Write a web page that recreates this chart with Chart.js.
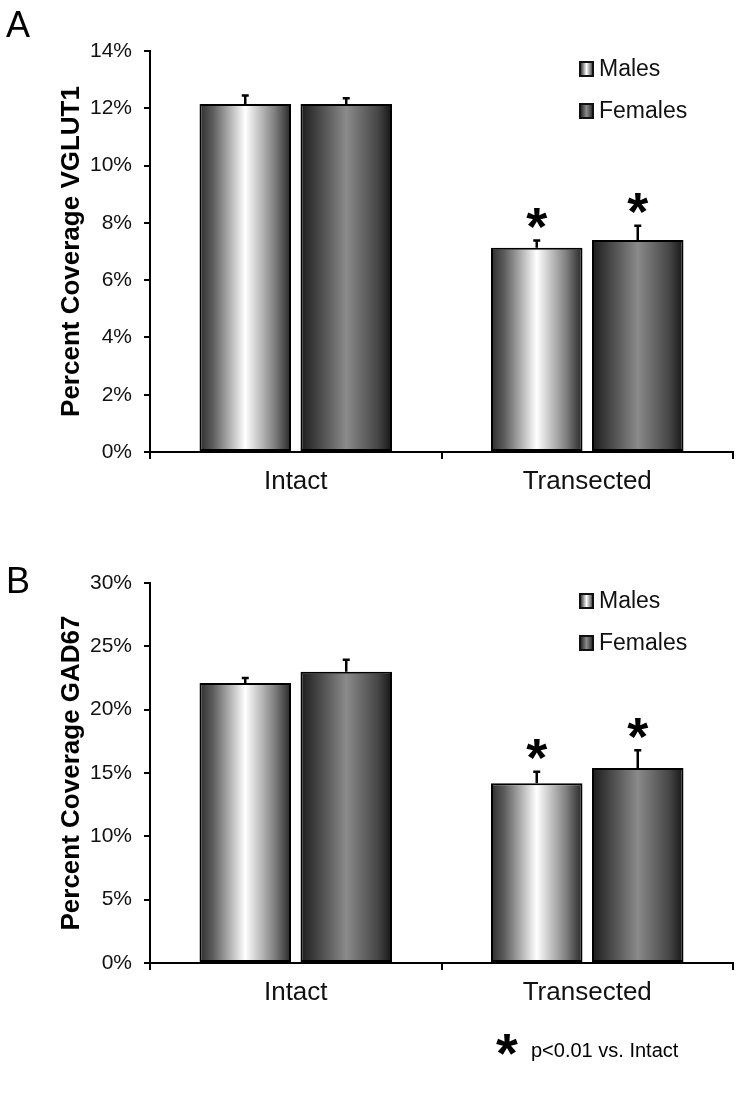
<!DOCTYPE html>
<html>
<head>
<meta charset="utf-8">
<script src="https://cdn.jsdelivr.net/npm/chart.js@4.4.1/dist/chart.umd.min.js"></script>
<style>
  body { margin: 0; background: #fff; width: 742px; height: 1093px; position: relative; overflow: hidden;
         font-family: 'Liberation Sans', Arial, sans-serif; }
  .panel { position: absolute; left: 0; }
  #panelA { top: 0; }
  #panelB { top: 520px; }
  .letter { position: absolute; left: 6px; font-size: 36px; line-height: 1; color: #000; }
</style>
</head>
<body>
<div class="panel" id="panelA"><canvas id="chartA" width="742" height="520"></canvas></div>
<div class="panel" id="panelB"><canvas id="chartB" width="742" height="573"></canvas></div>
<div class="letter" style="top:7px">A</div>
<div class="letter" style="top:563px">B</div>

<script>
/* ── Data ────────────────────────────────────────────── */
const groups = ['Intact', 'Transected'];
const seriesNames = ['Males', 'Females'];

// Panel A: VGLUT1 coverage (%)
const vglutMales      = [12.15, 7.13];
const vglutFemales    = [12.15, 7.40];
const vglutMalesErr   = [0.30, 0.25];
const vglutFemalesErr = [0.20, 0.50];

// Panel B: GAD67 coverage (%)
const gadMales      = [22.1, 14.2];
const gadFemales    = [23.0, 15.4];
const gadMalesErr   = [0.40, 0.90];
const gadFemalesErr = [0.95, 1.40];

// p<0.01 vs. Intact
const significant = [false, true];

const vglutTicks = { max: 14, step: 2 };
const gadTicks   = { max: 30, step: 5 };

/* ── Defaults ────────────────────────────────────────── */
const FONT = "'Liberation Sans', Arial, sans-serif";
Chart.defaults.font.family = FONT;
Chart.defaults.color = '#111';

/* ── Bar shading (cylinder-like gradients) ───────────── */
const shades = {
  Males:   [[0, '#2e2e2e'], [0.15, '#5e5e5e'], [0.5, '#ffffff'], [0.82, '#808080'], [1, '#262626']],
  Females: [[0, '#1c1c1c'], [0.15, '#3c3c3c'], [0.5, '#8a8a8a'], [0.85, '#454545'], [1, '#141414']],
};

function makeGradient(ctx, x0, x1, stops) {
  const g = ctx.createLinearGradient(x0, 0, x1, 0);
  stops.forEach(([o, c]) => g.addColorStop(o, c));
  return g;
}

const shadingPlugin = {
  id: 'shading',
  beforeDatasetsDraw(chart) {
    const ctx = chart.ctx;
    chart.data.datasets.forEach((ds, di) => {
      chart.getDatasetMeta(di).data.forEach(bar => {
        const x0 = bar.x - bar.width / 2, x1 = bar.x + bar.width / 2;
        bar.options = Object.assign({}, bar.options, {
          backgroundColor: makeGradient(ctx, x0, x1, shades[ds.label])
        });
      });
    });
  }
};

/* ── Error bars + significance stars ─────────────────── */
const errorPlugin = {
  id: 'errorBars',
  afterDatasetsDraw(chart) {
    const ctx = chart.ctx;
    const y = chart.scales.y;
    ctx.save();
    chart.data.datasets.forEach((ds, di) => {
      chart.getDatasetMeta(di).data.forEach((bar, i) => {
        const top = y.getPixelForValue(ds.data[i] + ds.errors[i]);
        ctx.strokeStyle = '#000';
        ctx.lineWidth = 2.5;
        ctx.beginPath();
        ctx.moveTo(bar.x, bar.y);
        ctx.lineTo(bar.x, top);
        ctx.moveTo(bar.x - 3.5, top);
        ctx.lineTo(bar.x + 3.5, top);
        ctx.stroke();
        if (significant[i]) {
          ctx.font = 'bold 54px ' + FONT;
          ctx.fillStyle = '#000';
          ctx.textAlign = 'center';
          ctx.textBaseline = 'alphabetic';
          const m = ctx.measureText('*');
          const cy = top - 22;
          ctx.fillText('*', bar.x, cy + (m.actualBoundingBoxAscent - m.actualBoundingBoxDescent) / 2);
        }
      });
    });
    ctx.restore();
  }
};

/* ── Legend drawn inside the plot ────────────────────── */
const boxLegendPlugin = {
  id: 'boxLegend',
  afterDraw(chart, args, opts) {
    const ctx = chart.ctx;
    const a = chart.chartArea;
    ctx.save();
    chart.data.datasets.forEach((ds, di) => {
      const cy = a.top + opts.rows[di];
      const bx = a.left + opts.x;
      ctx.fillStyle = makeGradient(ctx, bx, bx + 13, shades[ds.label]);
      ctx.fillRect(bx, cy - 7, 13, 14);
      ctx.strokeStyle = '#111';
      ctx.lineWidth = 2;
      ctx.strokeRect(bx, cy - 7, 13, 14);
      ctx.font = '23px ' + FONT;
      ctx.fillStyle = '#111';
      ctx.textAlign = 'left';
      ctx.textBaseline = 'middle';
      ctx.fillText(ds.label, bx + 19, cy + 1);
    });
    ctx.restore();
  }
};

/* ── Footnote (panel B only) ─────────────────────────── */
const notePlugin = {
  id: 'note',
  afterDraw(chart, args, opts) {
    if (!opts.text) return;
    const ctx = chart.ctx;
    ctx.save();
    ctx.fillStyle = '#000';
    ctx.font = 'bold 56px ' + FONT;
    ctx.textAlign = 'center';
    ctx.textBaseline = 'alphabetic';
    const m = ctx.measureText('*');
    ctx.fillText('*', opts.starX, opts.starY + (m.actualBoundingBoxAscent - m.actualBoundingBoxDescent) / 2);
    ctx.font = '20px ' + FONT;
    ctx.textAlign = 'left';
    ctx.fillText(opts.text, opts.textX, opts.textY);
    ctx.restore();
  }
};

/* ── Chart factory ───────────────────────────────────── */
function buildChart(id, title, males, females, maleErr, femaleErr, ticks, pad, axisH, note) {
  return new Chart(document.getElementById(id), {
    type: 'bar',
    data: {
      labels: groups,
      datasets: [
        { label: seriesNames[0], data: males,   errors: maleErr,   backgroundColor: '#ddd' },
        { label: seriesNames[1], data: females, errors: femaleErr, backgroundColor: '#777' },
      ].map(d => Object.assign(d, {
        borderColor: '#000', borderWidth: 2, borderSkipped: false,
        categoryPercentage: 0.693, barPercentage: 0.906
      }))
    },
    options: {
      responsive: false,
      animation: false,
      layout: { padding: { top: pad, right: 9, left: 0, bottom: 0 } },
      plugins: {
        legend: { display: false },
        tooltip: { enabled: false },
        boxLegend: { x: 430, rows: [18, 60] },
        note: note || {}
      },
      scales: {
        x: {
          ticks: { padding: 7, font: { size: 26 }, color: '#111' },
          grid: { drawOnChartArea: false, color: '#000', lineWidth: 2, tickLength: 7 },
          border: { color: '#000', width: 2 },
          afterFit: s => { s.height = axisH; }
        },
        y: {
          min: 0,
          max: ticks.max,
          ticks: { stepSize: ticks.step, padding: 12, font: { size: 21 }, color: '#111', callback: v => v + '%' },
          grid: { drawOnChartArea: false, color: '#000', lineWidth: 2, tickLength: 6 },
          border: { color: '#000', width: 2 },
          title: { display: true, text: title, color: '#000', font: { size: 26, weight: 'bold' }, padding: { top: 56, bottom: 0 } },
          afterFit: s => { s.width = 150; }
        }
      }
    },
    plugins: [shadingPlugin, errorPlugin, boxLegendPlugin, notePlugin]
  });
}

document.addEventListener('DOMContentLoaded', () => {
  buildChart('chartA', 'Percent Coverage VGLUT1', vglutMales, vglutFemales, vglutMalesErr, vglutFemalesErr,
    vglutTicks, 51, 68);
  buildChart('chartB', 'Percent Coverage GAD67', gadMales, gadFemales, gadMalesErr, gadFemalesErr,
    gadTicks, 63, 130, { text: 'p<0.01 vs. Intact', starX: 507, starY: 524, textX: 531, textY: 537 });
});
</script>
</body>
</html>
